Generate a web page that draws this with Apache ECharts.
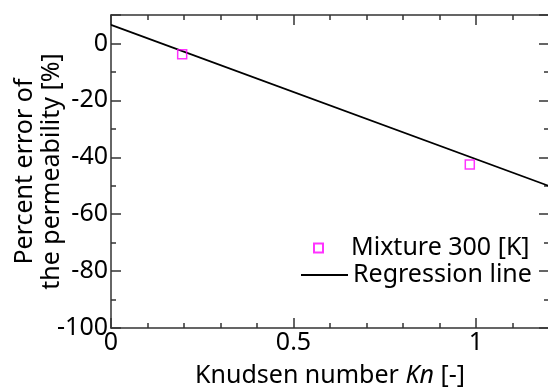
<!DOCTYPE html>
<html>
<head>
<meta charset="utf-8">
<script src="https://cdn.jsdelivr.net/npm/echarts@6/dist/echarts.min.js"></script>
<style>
  html, body { margin: 0; padding: 0; background: #fff; }
  #main { width: 548px; height: 388px; }
</style>
</head>
<body>
<div id="main"></div>
<script>
// measured points (Kn, percent error)
const mixtureKn = [0.195, 0.983]
const mixtureErr = [-3.8, -42.5]
// regression line end points
const regKn = [0, 1.2]
const regErr = [6.5, -50.1]

const FONT = 'Noto Sans'
const AXIS_COLOR = '#333'

const mixtureData = mixtureKn.map((x, i) => [x, mixtureErr[i]])
const regData = regKn.map((x, i) => [x, regErr[i]])

const chart = echarts.init(document.getElementById('main'))

// shared tick style, ticks point inward like the original plot
const tickStyle = {
  axisLine: { show: true, onZero: false, lineStyle: { color: AXIS_COLOR, width: 1.5 } },
  axisTick: { show: true, inside: true, length: 10, lineStyle: { color: AXIS_COLOR, width: 1.5 } },
  minorTick: { show: true, length: 5, lineStyle: { color: AXIS_COLOR, width: 1.5 } },
  splitLine: { show: false }
}
const legendText = { fontFamily: FONT, fontSize: 25, color: '#000', lineHeight: 26 }

const option = {
  animation: false,
  backgroundColor: '#fff',
  textStyle: { fontFamily: FONT },
  grid: { left: 111, right: -1, top: 15, bottom: 60, outerBoundsMode: 'none', containLabel: false },
  legend: [
    {
      left: 308,
      top: 230,
      itemWidth: 9,
      itemHeight: 9,
      textStyle: { ...legendText, padding: [0, 0, 0, 23] },
      data: ['Mixture 300 [K]']
    },
    {
      left: 296,
      top: 257,
      itemWidth: 47,
      itemHeight: 2,
      icon: 'rect',
      textStyle: legendText,
      data: ['Regression line']
    }
  ],
  xAxis: [
    {
      type: 'value', min: 0, max: 1.2, interval: 0.5,
      ...tickStyle,
      minorTick: { ...tickStyle.minorTick, splitNumber: 5 },
      axisLabel: {
        color: '#000', fontSize: 25, fontFamily: FONT, margin: 2,
        showMaxLabel: false
      },
      name: 'Knudsen number {i|Kn} [-]',
      nameLocation: 'middle',
      nameGap: 35,
      nameMoveOverlap: false,
      nameTextStyle: {
        color: '#000', fontSize: 25, fontFamily: FONT,
        rich: { i: { fontStyle: 'italic', fontSize: 25, fontFamily: FONT, color: '#000' } }
      }
    },
    {
      type: 'value', position: 'top', min: 0, max: 1.2, interval: 0.5,
      ...tickStyle,
      minorTick: { ...tickStyle.minorTick, splitNumber: 5 },
      axisLabel: { show: false }
    }
  ],
  yAxis: [
    {
      type: 'value', min: -100, max: 10, interval: 20,
      ...tickStyle,
      minorTick: { ...tickStyle.minorTick, splitNumber: 2 },
      axisLabel: {
        color: '#000', fontSize: 25, fontFamily: FONT, margin: 3,
        showMaxLabel: false
      },
      name: 'Percent error of\nthe permeability [%]',
      nameLocation: 'middle',
      nameGap: 46,
      nameMoveOverlap: false,
      nameTextStyle: { color: '#000', fontSize: 25, fontFamily: FONT, lineHeight: 27 }
    },
    {
      type: 'value', position: 'right', min: -100, max: 10, interval: 20,
      ...tickStyle,
      minorTick: { ...tickStyle.minorTick, splitNumber: 2 },
      axisLabel: { show: false }
    }
  ],
  series: [
    {
      name: 'Mixture 300 [K]',
      type: 'scatter',
      symbol: 'rect',
      symbolSize: 9,
      z: 3,
      itemStyle: { color: 'rgba(255,255,255,0)', borderColor: '#ff00ff', borderWidth: 1.5 },
      data: mixtureData
    },
    {
      name: 'Regression line',
      type: 'line',
      symbol: 'none',
      z: 2,
      lineStyle: { color: '#000', width: 1.8 },
      itemStyle: { color: '#000' },
      data: regData
    }
  ]
}

chart.setOption(option)
</script>
</body>
</html>
